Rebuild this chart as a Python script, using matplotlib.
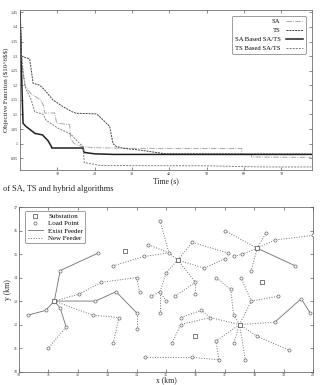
import matplotlib
matplotlib.use('Agg')
import matplotlib.pyplot as plt
import numpy as np

plt.rcParams['font.family'] = ['Liberation Serif', 'DejaVu Serif']

# ---- convergence curves (time in s, objective in 10^6 $)
sa_t = [0, 0.5, 1.2, 3, 5.5, 6.3, 6.6, 9.3, 9.8, 13.3, 13.6, 14.5, 16.5, 20, 30, 59.4, 59.4, 62, 62, 78]
sa_v = [1.45, 1.28, 1.2, 1.17, 1.15, 1.13, 1.105, 1.105, 1.07, 1.065, 1.015, 1.0, 0.99, 0.986, 0.984, 0.983, 0.963, 0.963, 0.954, 0.953]
ts_t = [0, 0.4, 2.6, 3.5, 5.3, 6.6, 8.8, 11.5, 13.8, 15, 20.4, 21.3, 23.1, 24, 24.9, 25.8, 27.6, 32, 39, 78]
ts_v = [1.45, 1.30, 1.29, 1.207, 1.20, 1.184, 1.15, 1.127, 1.11, 1.104, 1.102, 1.093, 1.07, 1.06, 1.0, 0.99, 0.984, 0.978, 0.965, 0.964]
sab_t = [0, 0.3, 0.5, 0.8, 1.5, 3, 4, 6, 7.5, 8.4, 8.5, 16.9, 17.1, 20, 25, 78]
sab_v = [1.45, 1.3, 1.2, 1.07, 1.06, 1.045, 1.035, 1.03, 1.01, 0.99, 0.985, 0.985, 0.97, 0.965, 0.963, 0.963]
tsb_t = [0, 0.3, 0.8, 1.5, 3, 3.9, 6.2, 7, 9.3, 10.6, 12.4, 13.75, 16, 16.9, 17.2, 19.5, 21.5, 50, 65, 78]
tsb_v = [1.45, 1.32, 1.25, 1.19, 1.15, 1.11, 1.1, 1.08, 1.06, 1.05, 1.04, 1.03, 1.0, 0.99, 0.935, 0.93, 0.925, 0.924, 0.92, 0.92]

y_ticks = [0.95, 1, 1.05, 1.1, 1.15, 1.2, 1.25, 1.3, 1.35, 1.4, 1.45]
y_labels = ['0.95', '1', '1.05', '1.1', '1.15', '1.2', '1.25', '1.3', '1.35', '1.4', '1.45']
t_ticks = [10, 20, 30, 40, 50, 60, 70]

# ---- network (km)
subs = [(11.2, 13.0), (15.4, 14.75), (17.5, 12.0), (18.1, 15.25), (13.6, 15.15), (18.25, 13.8), (16.0, 11.5)]
loads = [(11.4, 14.3), (12.7, 15.05), (12.05, 13.3), (12.8, 13.8), (14.0, 14.0), (14.1, 13.4),
         (12.6, 13.0), (13.3, 13.4), (14.0, 12.5), (14.0, 11.8), (12.5, 12.4), (13.4, 12.3), (13.2, 11.2),
         (11.4, 12.7), (11.6, 11.9), (11.0, 11.0), (10.9, 12.6), (10.3, 12.4),
         (15.1, 15.05), (14.8, 16.4), (14.4, 15.4), (14.25, 14.9), (13.2, 14.5),
         (15.9, 15.5), (17.1, 15.05), (16.3, 14.4), (17.0, 14.8), (16.0, 13.8), (16.0, 13.3), (15.3, 13.2),
         (15.0, 14.2), (14.8, 13.4), (14.5, 13.2), (15.0, 13.0), (14.8, 12.5),
         (17.3, 12.4), (17.2, 13.5), (16.7, 14.0), (17.9, 13.0), (17.55, 14.0), (18.8, 13.2),
         (18.7, 12.1), (19.6, 13.1), (19.9, 12.5), (18.1, 11.5), (19.2, 10.9), (17.7, 10.5), (17.3, 11.2),
         (16.7, 11.3), (16.8, 10.5), (15.9, 10.6), (14.3, 10.6), (16.5, 12.3), (16.2, 12.6), (15.5, 12.3),
         (15.5, 12.0), (15.2, 11.2),
         (17.0, 16.0), (18.4, 15.9), (18.7, 15.6), (20.0, 15.8), (19.4, 14.5), (17.6, 15.0), (17.3, 14.9),
         (17.9, 14.3)]
exist_feeders = [[(11.2, 13.0), (11.4, 14.3), (12.7, 15.05)],
                 [(11.2, 13.0), (12.6, 13.0), (13.3, 13.4), (14.0, 12.5)],
                 [(11.2, 13.0), (11.4, 12.7), (11.6, 11.9)],
                 [(11.2, 13.0), (10.9, 12.6), (10.3, 12.4)],
                 [(18.7, 12.1), (19.6, 13.1), (19.9, 12.5)],
                 [(18.1, 15.25), (19.4, 14.5)]]
new_feeders = [[(11.2, 13.0), (12.05, 13.3), (12.8, 13.8), (14.0, 14.0), (14.1, 13.4)],
               [(14.0, 12.5), (14.0, 11.8)],
               [(11.2, 13.0), (12.5, 12.4), (13.4, 12.3), (13.2, 11.2)],
               [(11.6, 11.9), (11.0, 11.0)],
               [(15.4, 14.75), (15.1, 15.05), (14.8, 16.4)],
               [(15.1, 15.05), (14.4, 15.4)],
               [(15.1, 15.05), (14.25, 14.9), (13.2, 14.5)],
               [(15.4, 14.75), (15.9, 15.5), (17.1, 15.05)],
               [(15.4, 14.75), (16.3, 14.4), (17.0, 14.8)],
               [(15.4, 14.75), (16.0, 13.8), (16.0, 13.3)],
               [(16.0, 13.8), (15.3, 13.2)],
               [(15.4, 14.75), (15.0, 14.2), (14.8, 13.4), (14.5, 13.2)],
               [(14.8, 13.4), (15.0, 13.0)],
               [(14.8, 13.4), (14.8, 12.5)],
               [(17.5, 12.0), (17.3, 12.4), (17.2, 13.5), (16.7, 14.0)],
               [(17.5, 12.0), (17.9, 13.0), (17.55, 14.0)],
               [(17.9, 13.0), (18.8, 13.2)],
               [(17.5, 12.0), (18.7, 12.1)],
               [(17.5, 12.0), (18.1, 11.5), (19.2, 10.9)],
               [(17.5, 12.0), (17.7, 10.5)],
               [(17.5, 12.0), (17.3, 11.2)],
               [(17.5, 12.0), (16.7, 11.3), (16.8, 10.5), (15.9, 10.6), (14.3, 10.6)],
               [(17.5, 12.0), (16.5, 12.3), (16.2, 12.6), (15.5, 12.3)],
               [(16.5, 12.3), (15.5, 12.0), (15.2, 11.2)],
               [(18.1, 15.25), (17.0, 16.0)],
               [(18.1, 15.25), (18.4, 15.9)],
               [(18.1, 15.25), (18.7, 15.6), (20.0, 15.8)],
               [(18.1, 15.25), (17.6, 15.0), (17.3, 14.9)],
               [(18.1, 15.25), (17.9, 14.3)]]

fig = plt.figure(figsize=(3.23, 3.85), dpi=100)

# top: convergence
ax = fig.add_axes([0.062, 0.558, 0.904, 0.416])
ax.plot(sa_t, sa_v, '-.', color='#9a9a9a', lw=0.6, label='SA')
ax.plot(ts_t, ts_v, '--', color='#404040', lw=0.7, dashes=(2, 1), label='TS')
ax.plot(sab_t, sab_v, '-', color='#202020', lw=1.1, label='SA Based SA/TS')
ax.plot(tsb_t, tsb_v, '--', color='#808080', lw=0.7, dashes=(2, 1.2), label='TS Based SA/TS')
ax.set_xlim(0, 78.2)
ax.set_ylim(0.909, 1.458)
ax.set_xticks(t_ticks)
ax.set_yticks(y_ticks)
ax.set_yticklabels(y_labels)
ax.tick_params(direction='in', top=True, right=True, labelsize=3, length=2, width=0.4, pad=1.5, colors='#333333')
for s in ax.spines.values():
    s.set_linewidth(0.5)
    s.set_color('#555555')
ax.set_xlabel('Time (s)', fontsize=5.5, labelpad=1, color='#222222')
ax.set_ylabel('Objective Function ($10^6$$)', fontsize=5, labelpad=1, color='#222222')
leg = ax.legend(loc='upper right', fontsize=4.8, markerfirst=False, frameon=True, fancybox=True,
                handlelength=2.6, borderpad=0.4, labelspacing=0.5, bbox_to_anchor=(0.99, 0.985))
leg.get_frame().set_edgecolor('#555555')
leg.get_frame().set_linewidth(0.5)

fig.text(0.01, 0.505, 'of SA, TS and hybrid algorithms', fontsize=6, color='#222222')

# bottom: network
bx = fig.add_axes([0.059, 0.035, 0.910, 0.427])
for i, f in enumerate(exist_feeders):
    xs, ys = zip(*f)
    bx.plot(xs, ys, '-', color='#707070', lw=0.6, label='Exist Feeder' if i == 0 else None, zorder=1)
for i, f in enumerate(new_feeders):
    xs, ys = zip(*f)
    bx.plot(xs, ys, ':', color='#707070', lw=0.7, label='New Feeder' if i == 0 else None, zorder=1)
lx, ly = zip(*loads)
sx, sy = zip(*subs)
bx.scatter(sx, sy, marker='s', s=5, facecolor='white', edgecolor='#444444', linewidths=0.5, zorder=3, label='Substation')
bx.scatter(lx, ly, marker='o', s=5, facecolor='white', edgecolor='#666666', linewidths=0.5, zorder=3, label='Load Point')
bx.set_xlim(10, 20)
bx.set_ylim(10, 17)
bx.set_xticks(range(10, 21))
bx.set_yticks(range(10, 18))
bx.tick_params(direction='in', top=True, right=True, labelsize=3, length=2, width=0.4, pad=1, colors='#333333')
for s in bx.spines.values():
    s.set_linewidth(0.5)
    s.set_color('#555555')
bx.set_xlabel('x (km)', fontsize=5.5, labelpad=-0.5, color='#222222')
bx.set_ylabel('y (km)', fontsize=5.5, labelpad=1, color='#222222')
h, l = bx.get_legend_handles_labels()
order = [l.index('Substation'), l.index('Load Point'), l.index('Exist Feeder'), l.index('New Feeder')]
leg2 = bx.legend([h[i] for i in order], [l[i] for i in order], loc='upper left', fontsize=5,
                 fancybox=True, handlelength=2.2, borderpad=0.3, labelspacing=0.25, bbox_to_anchor=(0.01, 1.0))
leg2.get_frame().set_edgecolor('#555555')
leg2.get_frame().set_linewidth(0.5)

fig.savefig('out.png', dpi=100)
